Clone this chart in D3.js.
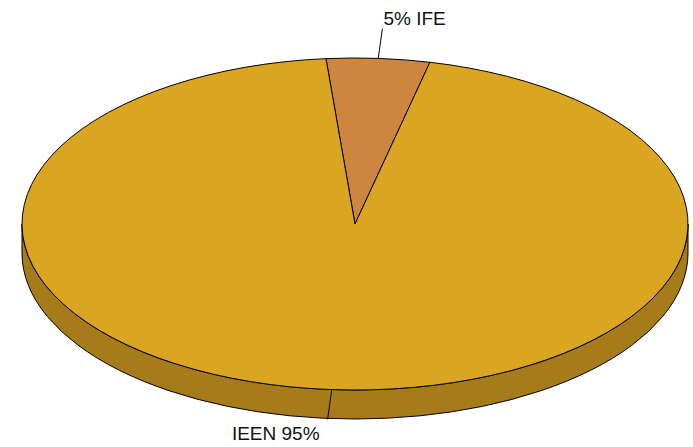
<!DOCTYPE html>
<html>
<head>
<meta charset="utf-8">
<script src="https://cdn.jsdelivr.net/npm/d3@7"></script>
<style>
  body { margin: 0; background: #fff; }
  text { font-family: "Liberation Sans", Arial, sans-serif; }
</style>
</head>
<body>
<div id="chart"></div>
<script>
// data
var categories = ['IFE', 'IEEN'];
var values = [5, 95];
var labels = ['5% IFE', 'IEEN 95%'];
var topColors = ['#CD853F', '#DAA520'];
var sideColors = ['#9C6530', '#A67C1B'];

var width = 693, height = 447;
var cx = 355, cy = 224, rx = 333, ry = 166, depth = 29;

var svg = d3.select('#chart').append('svg')
  .attr('width', width)
  .attr('height', height);

var topColor = d3.scaleOrdinal().domain(categories).range(topColors);
var sideColor = d3.scaleOrdinal().domain(categories).range(sideColors);

var start = -5 * Math.PI / 180;
var pie = d3.pie().sort(null).value(function(d) { return d.value; })
  .startAngle(start).endAngle(start + 2 * Math.PI);

var data = categories.map(function(c, i) { return {cat: c, value: values[i], label: labels[i]}; });
var arcs = pie(data);

function pt(a, k, dy) {
  k = k || 1; dy = dy || 0;
  return [cx + rx * k * Math.sin(a), cy - ry * k * Math.cos(a) + dy];
}

function topPath(d) {
  var p0 = pt(d.startAngle), p1 = pt(d.endAngle);
  var large = (d.endAngle - d.startAngle) > Math.PI ? 1 : 0;
  return 'M' + cx + ',' + cy + 'L' + p0 + 'A' + rx + ',' + ry + ' 0 ' + large + ' 1 ' + p1 + 'Z';
}

function sidePath(d) {
  // only the front half of the rim is visible
  var s = Math.max(d.startAngle, Math.PI / 2), e = Math.min(d.endAngle, 3 * Math.PI / 2);
  if (e <= s) return null;
  var p0 = pt(s), p1 = pt(e), q1 = pt(e, 1, depth), q0 = pt(s, 1, depth);
  return 'M' + p0 + 'A' + rx + ',' + ry + ' 0 0 1 ' + p1 + 'L' + q1 +
    'A' + rx + ',' + ry + ' 0 0 0 ' + q0 + 'Z';
}

// sides
svg.selectAll('.side')
  .data(arcs.filter(function(d) { return sidePath(d); }))
  .enter().append('path')
  .attr('class', 'side')
  .attr('d', sidePath)
  .attr('fill', function(d) { return sideColor(d.data.cat); })
  .attr('stroke', '#000')
  .attr('stroke-width', 1)
  .attr('stroke-linejoin', 'round');

// tops
svg.selectAll('.slice')
  .data(arcs)
  .enter().append('path')
  .attr('class', 'slice')
  .attr('d', topPath)
  .attr('fill', function(d) { return topColor(d.data.cat); })
  .attr('stroke', '#000')
  .attr('stroke-width', 1)
  .attr('stroke-linejoin', 'round');

// leader lines and labels
arcs.forEach(function(d) {
  var mid = (d.startAngle + d.endAngle) / 2;
  var p0 = pt(mid), p1 = pt(mid, 1.18);
  svg.append('line')
    .attr('x1', p0[0]).attr('y1', p0[1])
    .attr('x2', p1[0]).attr('y2', p1[1])
    .attr('stroke', '#000').attr('stroke-width', 1);
  var bottom = Math.cos(mid) < 0;
  svg.append('text')
    .attr('x', bottom ? p1[0] - 8 : p1[0] + 1)
    .attr('y', bottom ? p1[1] + 21 : p1[1] - 4)
    .attr('text-anchor', bottom ? 'end' : 'start')
    .attr('font-size', '19px')
    .attr('fill', '#111')
    .text(d.data.label);
});
</script>
</body>
</html>
